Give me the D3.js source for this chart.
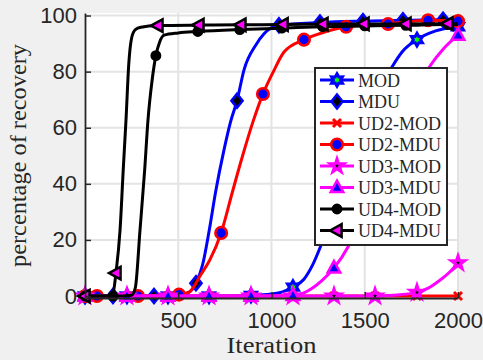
<!DOCTYPE html>
<html>
<head>
<meta charset="utf-8">
<script src="https://cdn.jsdelivr.net/npm/d3@7"></script>
<style>
  html, body { margin: 0; padding: 0; background: #f0f0f0; }
  svg { display: block; }
</style>
</head>
<body>
<script>
// ---- data -------------------------------------------------------------
const iterTicks = [500, 1000, 1500, 2000];
const pctTicks  = [0, 20, 40, 60, 80, 100];

// MOD
const MOD_it   = [0, 225, 445, 665, 890, 1000, 1060, 1115, 1174, 1220, 1265, 1335, 1400, 1480, 1555, 1640, 1700, 1780, 1880, 2000];
const MOD_val  = [0, 0, 0, 0, 0.2, 0.7, 1.5, 3.2, 6, 11, 18, 31, 45, 60, 71, 81, 87, 91.4, 94.5, 96];
const MOD_mk   = [0, 225, 445, 665, 890, 1115, 1335, 1555, 1780, 2000];

// MDU
const MDU_it   = [0, 150, 370, 500, 550, 595, 630, 665, 700, 745, 780, 815, 853, 917, 960, 1040, 1260, 1490, 1705, 1920, 2000];
const MDU_val  = [0, 0, 0, 0.2, 1, 4.6, 11, 23, 37, 52, 62, 69.6, 80.7, 89.6, 93.5, 96.5, 97.5, 98, 98.3, 98.5, 98.5];
const MDU_mk   = [0, 150, 370, 595, 815, 1040, 1260, 1490, 1705, 1920];

// UD2-MOD
const UD2MOD_it  = [0, 225, 445, 665, 890, 1115, 1335, 1555, 1780, 2000];
const UD2MOD_val = [0, 0, 0, 0, 0, 0, 0, 0, 0, 0];
const UD2MOD_mk  = [0, 225, 445, 665, 890, 1115, 1335, 1555, 1780, 2000];

// UD2-MDU
const UD2MDU_it  = [0, 64, 284, 504, 560, 620, 670, 730, 790, 845, 900, 954, 1010, 1067, 1174, 1280, 1400, 1625, 1840, 2000];
const UD2MDU_val = [0, 0, 0, 0.5, 1.5, 7.5, 13, 22.5, 37, 50, 62, 72, 80, 87, 91.4, 94, 96, 97, 98.3, 98];
const UD2MDU_mk  = [0, 64, 284, 504, 730, 954, 1174, 1400, 1625, 1840, 2000];

// UD3-MOD
const UD3MOD_it  = [0, 225, 445, 665, 890, 1115, 1335, 1555, 1650, 1780, 1840, 1900, 1950, 2000];
const UD3MOD_val = [0, 0, 0, 0, 0, 0, 0, 0, 0.3, 1.3, 2.8, 5.5, 8.2, 11.8];
const UD3MOD_mk  = [0, 225, 445, 665, 890, 1115, 1335, 1555, 1780, 2000];

// UD3-MDU
const UD3MDU_it  = [0, 225, 445, 665, 890, 1115, 1170, 1212, 1270, 1335, 1410, 1480, 1555, 1640, 1720, 1780, 1850, 1920, 2000];
const UD3MDU_val = [0, 0, 0, 0, 0, 0.2, 1, 2.5, 5.5, 10, 17.5, 28, 40, 55, 67, 74, 82, 88, 93];
const UD3MDU_mk  = [0, 225, 445, 665, 890, 1115, 1335, 1555, 1780, 2000];

// UD4-MOD
const UD4MOD_it  = [0, 150, 250, 270, 295, 320, 338, 360, 380, 400, 424, 500, 605, 830, 1055, 1275, 1500, 1720, 1945, 2000];
const UD4MOD_val = [0, 0, 0.3, 3, 23.6, 45, 63, 77, 85.7, 90.5, 93, 93.8, 94.3, 95, 95.5, 96, 96.3, 96.5, 96.8, 96.8];
const UD4MOD_mk  = [0, 150, 380, 605, 830, 1055, 1275, 1500, 1720, 1945];

// UD4-MDU
const UD4MDU_it  = [0, 120, 150, 166, 188, 205, 220, 235, 250, 270, 300, 391, 611, 836, 1062, 1276, 1496, 1721, 1946, 2000];
const UD4MDU_val = [0, 0, 1, 8.2, 23.6, 45, 63, 83, 92, 95, 95.8, 96.4, 96.6, 96.7, 96.8, 96.9, 97, 97, 97.1, 97.1];
const UD4MDU_mk  = [0, 166, 391, 611, 836, 1062, 1276, 1496, 1721, 1946];

// ---- marker shapes ----------------------------------------------------
function starType(n, R, r) {
  return { draw(ctx) {
    for (let i = 0; i < 2 * n; i++) {
      const a = -Math.PI / 2 + i * Math.PI / n;
      const rad = i % 2 === 0 ? R : r;
      const px = rad * Math.cos(a), py = rad * Math.sin(a);
      if (i === 0) ctx.moveTo(px, py); else ctx.lineTo(px, py);
    }
    ctx.closePath();
  }};
}
function polyType(pts) {
  return { draw(ctx) {
    pts.forEach((p, i) => i === 0 ? ctx.moveTo(p[0], p[1]) : ctx.lineTo(p[0], p[1]));
    ctx.closePath();
  }};
}
function circleType(r) {
  return { draw(ctx) { ctx.moveTo(r, 0); ctx.arc(0, 0, r, 0, 2 * Math.PI); } };
}
function crossType(h) {
  return { draw(ctx) {
    ctx.moveTo(-h, -h); ctx.lineTo(h, h);
    ctx.moveTo(h, -h); ctx.lineTo(-h, h);
  }};
}

const shapes = {
  hexagram:  starType(6, 6.3, 3.6),
  diamond:   polyType([[0, -7], [5.6, 0], [0, 7], [-5.6, 0]]),
  cross:     crossType(4),
  circle:    circleType(5.8),
  pentagram: starType(5, 7, 2.7),
  triUp:     polyType([[0, -7], [6.3, 4.6], [-6.3, 4.6]]),
  dot:       circleType(4.2),
  triLeft:   polyType([[-7, 0], [4.6, -6.3], [4.6, 6.3]])
};
const edgeWidth = { hexagram: 3, cross: 3, pentagram: 3 };

// ---- series table -----------------------------------------------------
const series = [
  { name: "MOD",     it: MOD_it,    val: MOD_val,    mk: MOD_mk,    color: "#0000ff", shape: "hexagram", face: "#00ff00" },
  { name: "MDU",     it: MDU_it,    val: MDU_val,    mk: MDU_mk,    color: "#0000ff", shape: "diamond",  face: "#000000" },
  { name: "UD2-MOD", it: UD2MOD_it, val: UD2MOD_val, mk: UD2MOD_mk, color: "#ff0000", shape: "cross",    face: "none" },
  { name: "UD2-MDU", it: UD2MDU_it, val: UD2MDU_val, mk: UD2MDU_mk, color: "#ff0000", shape: "circle",   face: "#0000ff" },
  { name: "UD3-MOD", it: UD3MOD_it, val: UD3MOD_val, mk: UD3MOD_mk, color: "#ff00ff", shape: "pentagram", face: "#000000" },
  { name: "UD3-MDU", it: UD3MDU_it, val: UD3MDU_val, mk: UD3MDU_mk, color: "#ff00ff", shape: "triUp",    face: "#0000ff" },
  { name: "UD4-MOD", it: UD4MOD_it, val: UD4MOD_val, mk: UD4MOD_mk, color: "#000000", shape: "dot",      face: "#000000" },
  { name: "UD4-MDU", it: UD4MDU_it, val: UD4MDU_val, mk: UD4MDU_mk, color: "#000000", shape: "triLeft",  face: "#ff00ff" }
];

// ---- layout -----------------------------------------------------------
const W = 483, H = 360;
const x = d3.scaleLinear().domain([0, 2000]).range([85, 458]);
const y = d3.scaleLinear().domain([-0.7, 100.9]).range([298, 13]);
const axisColor = "#262626";

const svg = d3.select("body").append("svg").attr("width", W).attr("height", H);
svg.append("rect").attr("width", W).attr("height", H).attr("fill", "#f0f0f0");

// plot area
svg.append("rect")
  .attr("x", x.range()[0]).attr("y", y.range()[1])
  .attr("width", x.range()[1] - x.range()[0])
  .attr("height", y.range()[0] - y.range()[1])
  .attr("fill", "#ffffff");

// grid
const grid = svg.append("g").attr("stroke", "#e3e3e3").attr("stroke-width", 2);
grid.selectAll("line.v").data(iterTicks).join("line")
  .attr("x1", d => x(d)).attr("x2", d => x(d))
  .attr("y1", y.range()[0]).attr("y2", y.range()[1]);
grid.selectAll("line.h").data(pctTicks.filter(d => d > 0)).join("line")
  .attr("x1", x.range()[0]).attr("x2", x.range()[1])
  .attr("y1", d => y(d)).attr("y2", d => y(d));

// series
const line = d3.line().x(d => x(d[0])).y(d => y(d[1])).curve(d3.curveMonotoneX);
const symbol = d3.symbol();

series.forEach(s => {
  const pts = s.it.map((t, i) => [t, s.val[i]]);
  const g = svg.append("g");
  g.append("path").attr("d", line(pts))
    .attr("fill", "none").attr("stroke", s.color)
    .attr("stroke-width", 3).attr("stroke-linejoin", "round");
  const markPts = pts.filter(p => s.mk.includes(p[0]));
  g.selectAll("path.m").data(markPts).join("path")
    .attr("class", "m")
    .attr("transform", d => `translate(${x(d[0])},${y(d[1])})`)
    .attr("d", symbol.type(shapes[s.shape])())
    .attr("fill", s.face).attr("stroke", s.color)
    .attr("stroke-width", edgeWidth[s.shape] || 2.5)
    .attr("stroke-linejoin", "miter");
});

// axes
const fmt = d3.format("d");
const yAxis = d3.axisLeft(y).tickValues(pctTicks).tickFormat(fmt).tickSizeInner(-6).tickSizeOuter(0).tickPadding(8);
const xAxis = d3.axisBottom(x).tickValues(iterTicks).tickFormat(fmt).tickSizeInner(-6).tickSizeOuter(0).tickPadding(14);

const gy = svg.append("g").attr("transform", `translate(${x.range()[0]},0)`).call(yAxis);
const gx = svg.append("g").attr("transform", `translate(0,${y.range()[0]})`).call(xAxis);
[gx, gy].forEach(g => {
  g.select(".domain").attr("stroke", axisColor).attr("stroke-width", 1.8);
  g.selectAll(".tick line").attr("stroke", axisColor).attr("stroke-width", 1.5);
  g.selectAll(".tick text").attr("fill", axisColor)
    .style("font-family", "'Liberation Sans', Arial, sans-serif").style("font-size", "22px");
});

// axis titles
svg.append("text")
  .attr("x", (x.range()[0] + x.range()[1]) / 2).attr("y", 353)
  .attr("text-anchor", "middle")
  .style("font-family", "'Liberation Serif', 'Times New Roman', serif").style("font-size", "23px")
  .attr("fill", axisColor)
  .attr("textLength", 90).attr("lengthAdjust", "spacingAndGlyphs")
  .text("Iteration");

svg.append("text")
  .attr("transform", `translate(26,${(y.range()[0] + y.range()[1]) / 2}) rotate(-90)`)
  .attr("text-anchor", "middle")
  .style("font-family", "'Liberation Serif', 'Times New Roman', serif").style("font-size", "23px")
  .attr("fill", axisColor)
  .attr("textLength", 223).attr("lengthAdjust", "spacingAndGlyphs")
  .text("percentage of recovery");

// legend
const lg = svg.append("g").attr("transform", "translate(315,68)");
lg.append("rect").attr("width", 132).attr("height", 177)
  .attr("fill", "#ffffff").attr("stroke", axisColor).attr("stroke-width", 2);
series.forEach((s, i) => {
  const cy = 12 + i * 21.5;
  const row = lg.append("g").attr("transform", `translate(0,${cy})`);
  row.append("line").attr("x1", 5).attr("x2", 39).attr("y1", 0).attr("y2", 0)
    .attr("stroke", s.color).attr("stroke-width", 3);
  row.append("path").attr("transform", "translate(22,0)")
    .attr("d", symbol.type(shapes[s.shape])())
    .attr("fill", s.face).attr("stroke", s.color)
    .attr("stroke-width", edgeWidth[s.shape] || 2.5);
  row.append("text").attr("x", 43).attr("y", 6.5)
    .style("font-family", "'Liberation Serif', 'Times New Roman', serif").style("font-size", "18px")
    .attr("fill", axisColor)
    .text(s.name);
});
</script>
</body>
</html>
